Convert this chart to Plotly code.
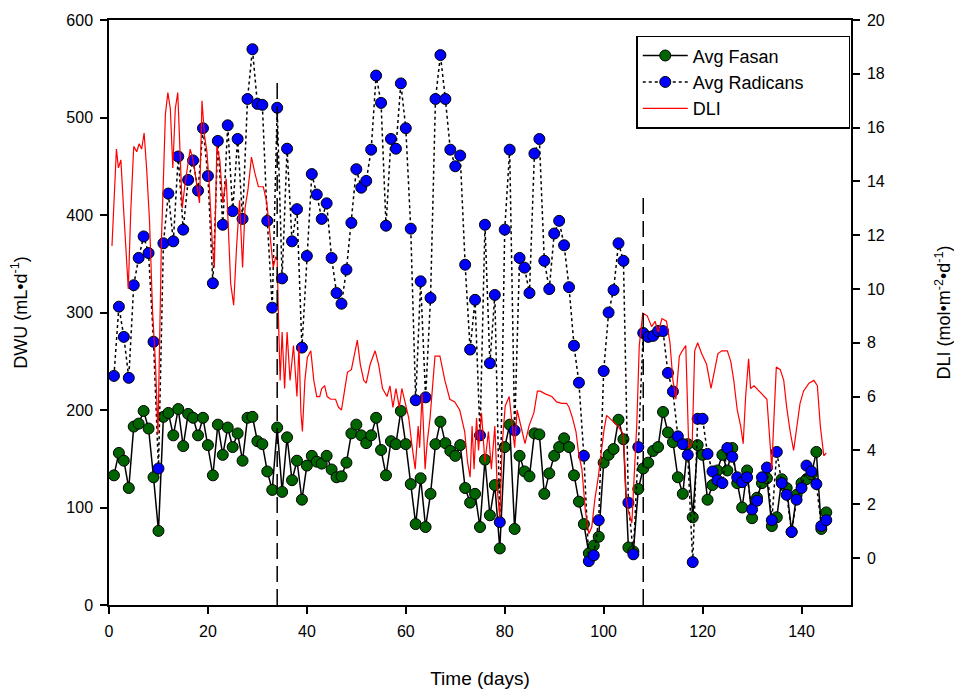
import plotly.graph_objects as go

# ---------------- data ----------------
days = list(range(1, 146))

fasan = [133, 156, 148, 120, 183, 186, 199, 181, 131, 76,
         193, 197, 174, 201, 163, 196, 192, 174, 192, 164,
         133, 185, 154, 182, 162, 176, 148, 192, 193, 168,
         165, 137, 118, 182, 116, 172, 128, 148, 108, 143,
         153, 147, 145, 153, 139, 131, 132, 146, 176, 185,
         174, 166, 174, 192, 159, 133, 168, 165, 199, 165,
         124, 83, 130, 80, 114, 165, 188, 166, 158, 153,
         164, 120, 105, 114, 80, 149, 92, 123, 58, 162,
         185, 78, 153, 137, 132, 176, 175, 114, 135, 153,
         162, 171, 162, 133, 106, 83, 53, 61, 70, 146,
         154, 160, 190, 170, 59, 55, 119, 140, 146, 158,
         162, 198, 177, 167, 131, 114, 165, 90, 164, 154,
         108, 123, 138, 154, 138, 161, 125, 100, 138, 89,
         110, 125, 130, 81, 90, 129, 120, 75, 113, 125,
         129, 134, 157, 78, 95]

radicans = [235, 306, 275, 233, 328, 356, 378, 361, 270, 140,
            371, 422, 373, 460, 385, 436, 456, 425, 489, 440,
            330, 476, 390, 492, 404, 478, 396, 519, 570, 514,
            513, 394, 305, 510, 335, 468, 373, 406, 264, 358,
            442, 421, 396, 412, 356, 320, 309, 344, 392, 447,
            428, 435, 467, 543, 515, 389, 478, 468, 535, 489,
            386, 210, 332, 213, 315, 519, 564, 519, 467, 450,
            461, 349, 262, 313, 174, 390, 248, 318, 85, 385,
            467, 179, 356, 346, 320, 463, 478, 353, 324, 381,
            394, 369, 326, 266, 228, 153, 45, 51, 87, 240,
            300, 323, 371, 353, 105, 52, 162, 279, 275, 276,
            281, 281, 238, 219, 173, 165, 154, 44, 191, 191,
            155, 137, 128, 125, 161, 152, 131, 126, 131, 98,
            107, 131, 141, 87, 157, 125, 113, 75, 108, 120,
            143, 137, 124, 81, 87]

dli_days = [0.6, 1.0, 1.5, 1.9, 2.4, 3.0, 3.5, 3.9, 4.4, 5.0, 5.6, 6.1, 6.6, 7.1, 7.6,
            8.2, 8.8, 9.4, 9.9, 10.2, 10.6, 11.0, 11.4, 11.9, 12.4, 12.9, 13.4, 13.9,
            14.3, 14.8, 15.3, 15.8, 16.4, 17.0, 17.6, 18.3, 18.8, 19.3, 19.8, 20.3,
            20.9, 21.3, 21.8, 22.4, 23.0, 23.7, 24.6, 25.2, 25.8, 26.4, 27.0, 27.5,
            28.1, 28.8, 29.5, 30.2, 31.2, 31.9, 32.5, 33.2, 33.7, 34.0, 34.3, 34.6,
            35.0, 35.5, 36.0, 36.6, 37.3, 38.0, 38.4, 38.8, 39.1, 39.6, 40.1, 40.8,
            41.4, 42.0, 42.6, 43.0, 43.6, 44.1, 44.8, 45.8, 46.4, 47.0, 47.6, 48.2,
            49.0, 49.8, 50.2, 50.8, 51.5, 52.0, 52.8, 53.8, 54.5, 55.3, 56.2, 56.8,
            57.4, 58.0, 58.7, 59.2, 60.0, 60.6, 61.2, 61.9, 62.5, 62.8, 63.3, 63.9,
            64.3, 64.9, 65.9, 66.9, 67.9, 68.9, 69.9, 70.9, 71.9, 72.5, 73.0, 73.4,
            73.8, 74.3, 74.7, 75.3, 76.0, 76.7, 77.3, 78.0, 78.5, 79.0, 79.5, 80.1,
            80.9, 81.5, 82.0, 82.5, 83.2, 84.1, 84.9, 85.9, 86.6, 87.2, 88.2, 89.5,
            90.5, 91.5, 92.5, 93.0, 93.7, 94.4, 95.0, 95.6, 96.3, 97.0, 97.6, 98.2,
            98.9, 99.6, 100.1, 100.6, 101.2, 102.2, 102.9, 103.6, 104.0, 104.5, 105.0,
            105.7, 106.2, 106.7, 107.2, 107.9, 108.8, 109.7, 110.4, 111.0, 111.8,
            112.7, 113.4, 114.0, 114.6, 115.3, 115.9, 116.6, 117.2, 117.9, 118.4,
            119.0, 119.8, 120.8, 121.7, 122.4, 123.1, 123.9, 125.0, 125.7, 126.3,
            127.0, 127.7, 128.2, 128.7, 129.3, 129.7, 130.4, 131.4, 132.4, 133.0,
            133.7, 134.0, 134.3, 134.9, 135.7, 136.4, 137.0, 137.7, 138.4, 139.0,
            139.7, 140.4, 141.5, 142.5, 143.2, 143.8, 144.5, 145.0]

dli = [11.6, 13.0, 15.2, 14.5, 14.8, 12.8, 11.0, 10.0, 12.9, 15.3, 15.1, 15.4, 15.2, 15.8, 14.5,
       12.5, 9.2, 7.2, 4.6, 7.8, 11.8, 14.1, 16.5, 17.3, 16.7, 14.5, 16.7, 17.3,
       15.3, 13.0, 13.8, 14.5, 15.2, 14.8, 14.1, 13.2, 17.0, 15.7, 15.1, 13.8,
       11.6, 10.8, 15.3, 14.8, 13.2, 14.1, 10.2, 9.4, 11.6, 13.3, 10.8, 13.0,
       13.7, 14.9, 14.3, 13.8, 13.8, 13.2, 12.1, 10.8, 11.2, 11.1, 8.6, 6.6,
       8.4, 6.3, 8.4, 6.6, 7.9, 6.0, 7.9, 5.4, 4.7, 6.6, 7.45, 7.7,
       6.6, 6.0, 6.0, 6.3, 6.4, 6.0, 5.9, 5.9, 5.6, 5.5, 6.2, 6.9,
       7.0, 7.7, 8.1, 7.2, 6.6, 6.5, 7.2, 7.7, 7.2, 6.3, 6.0, 6.4,
       5.6, 6.3, 5.6, 6.3, 5.6, 5.2, 4.25, 3.3, 4.9, 4.1, 6.1, 3.3,
       4.25, 5.2, 7.5, 7.5, 6.6, 5.9, 5.8, 5.5, 4.7, 3.55, 3.0, 4.9,
       3.3, 5.2, 4.0, 5.4, 3.55, 4.7, 3.3, 4.9, 2.55, 1.5, 4.25, 5.65,
       6.0, 5.0, 4.1, 5.5, 5.0, 4.25, 4.9, 5.4, 6.2, 6.2, 6.1, 6.0,
       5.8, 5.75, 5.75, 5.6, 5.2, 4.7, 3.8, 3.3, 1.75, 0.9, 1.15, 2.15,
       3.0, 4.1, 4.8, 5.3, 5.2, 5.0, 4.9, 4.7, 4.6, 2.3, 1.75,
       1.3, 3.3, 5.0, 7.9, 9.1, 9.0, 8.6, 8.8, 8.4, 8.9,
       8.8, 8.0, 6.6, 5.9, 7.5, 7.7, 7.9, 4.1, 4.25, 7.7,
       8.0, 7.6, 7.2, 6.3, 6.9, 7.6, 7.7, 7.7, 7.3, 6.6,
       5.5, 4.9, 4.25, 6.0, 7.4, 6.3, 6.4, 6.2, 6.0, 5.9,
       4.1, 3.3, 4.7, 7.1, 7.0, 6.6, 5.6, 4.7, 4.0, 4.9,
       5.75, 6.2, 6.5, 6.6, 6.4, 4.9, 3.8, 3.9]

phase_days = [34, 108]          # dashed vertical markers
phase_tops = [536, 418]         # DWU height where each dashed line starts

x_ticks = [0, 20, 40, 60, 80, 100, 120, 140]
dwu_ticks = [0, 100, 200, 300, 400, 500, 600]
dli_ticks = [0, 2, 4, 6, 8, 10, 12, 14, 16, 18, 20]

FONT = "Liberation Sans, Arial, sans-serif"
PAD = "\u00a0" * 8   # invisible padding to widen the legend box

fig = go.Figure()

fig.add_trace(go.Scatter(
    x=days, y=fasan, name="Avg Fasan", mode="lines+markers",
    legendgroup="a",
    line=dict(color="black", width=1.5),
    marker=dict(symbol="circle", size=11, color="#006400",
                line=dict(color="black", width=1)),
))
fig.add_trace(go.Scatter(
    x=days, y=radicans, name="Avg Radicans" + PAD, mode="lines+markers",
    legendgroup="b",
    line=dict(color="black", width=1.5, dash="dot"),
    marker=dict(symbol="circle", size=11, color="#0000ff",
                line=dict(color="black", width=1)),
))
fig.add_trace(go.Scatter(
    x=dli_days, y=dli, name="DLI", mode="lines", yaxis="y2",
    legendgroup="c",
    line=dict(color="#ff0000", width=1.2),
))

for d, top in zip(phase_days, phase_tops):
    fig.add_shape(type="line", xref="x", yref="y", x0=d, x1=d, y0=0, y1=top,
                  line=dict(color="black", width=1.5, dash="16px,7px"), layer="above")

axis_common = dict(showline=True, linecolor="black", linewidth=1.5, ticks="outside",
                   ticklen=7, tickwidth=1.5, tickcolor="black", showgrid=False,
                   zeroline=False, automargin=False, ticklabelstandoff=4,
                   tickfont=dict(family=FONT, size=16, color="black"))

fig.update_layout(
    width=954, height=686,
    margin=dict(l=101, r=111, t=12, b=89),
    paper_bgcolor="white", plot_bgcolor="white",
    font=dict(family=FONT, color="black"),
    xaxis=dict(range=[0, 150], tickvals=x_ticks, mirror=True,
               title=dict(text="Time (days)", font=dict(family=FONT, size=19), standoff=33),
               **axis_common),
    yaxis=dict(range=[0, 600], tickvals=dwu_ticks,
               title=dict(text="DWU (mL•d<sup>-1</sup>)", font=dict(family=FONT, size=18), standoff=34),
               **axis_common),
    yaxis2=dict(range=[-1.75, 20], tickvals=dli_ticks, overlaying="y", side="right",
                title=dict(text="DLI (mol•m<sup>-2</sup>•d<sup>-1</sup>)", font=dict(family=FONT, size=18), standoff=54),
                **axis_common),
    legend=dict(x=0.999, y=0.973, xanchor="right", yanchor="top",
                bgcolor="white", bordercolor="black", borderwidth=1.5,
                font=dict(family=FONT, size=18, color="black"),
                tracegroupgap=0, itemwidth=45),
    showlegend=True,
)

fig.write_html("out.html")
